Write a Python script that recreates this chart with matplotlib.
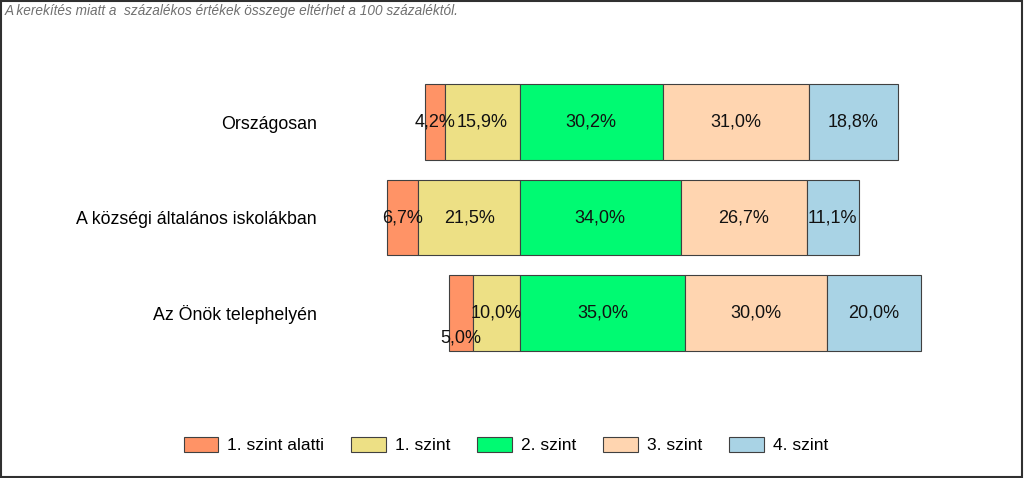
import matplotlib
matplotlib.use("Agg")
import matplotlib.pyplot as plt
import numpy as np

plt.rcParams['font.family'] = ['Liberation Sans', 'DejaVu Sans']

categories = ["Országosan", "A községi általános iskolákban", "Az Önök telephelyén"]
levels = ["1. szint alatti", "1. szint", "2. szint", "3. szint", "4. szint"]
colors = ["#FF9366", "#EDE085", "#00FA72", "#FFD5B0", "#A9D3E5"]

below1 = [4.2, 6.7, 5.0]
level1 = [15.9, 21.5, 10.0]
level2 = [30.2, 34.0, 35.0]
level3 = [31.0, 26.7, 30.0]
level4 = [18.8, 11.1, 20.0]

# label nudges (in bar units) where Excel moved a label off the bar centre
below1_label_dy = [0.0, 0.0, 0.26]

fig = plt.figure(figsize=(10.24, 4.78), dpi=100)
ax = fig.add_axes([0.3174, 0.2364, 0.669, 0.617])

y = np.arange(len(categories))
h = 0.79

# bars to the left of the 1/2 boundary, bars to the right
left_parts = [below1, level1]
right_parts = [level2, level3, level4]

lefts_b1 = -(np.array(below1) + np.array(level1))
lefts_l1 = -np.array(level1)
starts = [lefts_b1, lefts_l1]
for i, part in enumerate(left_parts):
    ax.barh(y, part, left=starts[i], height=h, color=colors[i],
            edgecolor="#404040", linewidth=0.8, label=levels[i])

cum = np.zeros(len(categories))
for j, part in enumerate(right_parts):
    ax.barh(y, part, left=cum, height=h, color=colors[j + 2],
            edgecolor="#404040", linewidth=0.8, label=levels[j + 2])
    starts.append(cum.copy())
    cum = cum + np.array(part)

all_parts = left_parts + right_parts
for k, part in enumerate(all_parts):
    for i in range(len(categories)):
        xc = starts[k][i] + part[i] / 2
        dy = below1_label_dy[i] if k == 0 else 0.0
        ax.text(xc, y[i] + dy, f"{part[i]:.1f}%".replace(".", ","),
                ha="center", va="center", fontsize=13, color="#111111")

ax.set_xlim(-41.3, 103.8)
ax.set_ylim(2.545, -0.545)
ax.set_yticks(y)
ax.set_yticklabels(categories, fontsize=12.8)
ax.tick_params(axis="y", length=0, pad=5.8)
ax.set_xticks([])
for s in ax.spines.values():
    s.set_visible(False)

fig.legend(loc="center", bbox_to_anchor=(0.494, 0.069), ncol=5, frameon=False,
           fontsize=12.5, handlelength=2.0, handleheight=0.92,
           handletextpad=0.52, columnspacing=1.55)

fig.text(0.005, 0.978, "A kerekítés miatt a  százalékos értékek összege eltérhet a 100 százaléktól.",
         ha="left", va="center", fontsize=9.8, style="italic", color="#707070")

fig.patches.append(plt.Rectangle((0.001, 0.002), 0.997, 0.996, transform=fig.transFigure,
                                 fill=False, edgecolor="#303030", linewidth=1.5))

fig.savefig("out.png", dpi=100)
